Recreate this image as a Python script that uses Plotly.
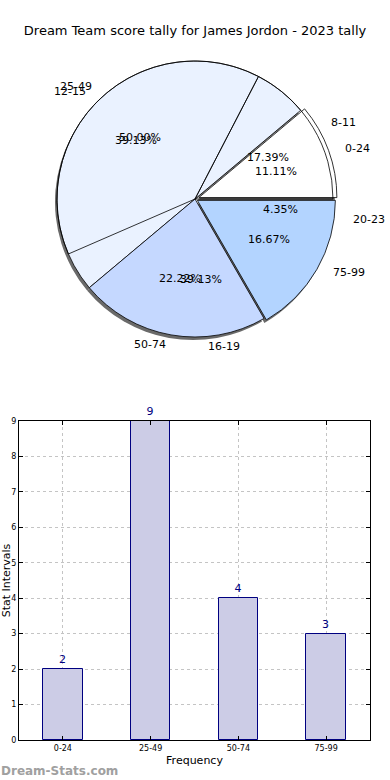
import math
import plotly.graph_objects as go

# ---------------- data ----------------
title_text = "Dream Team score tally for James Jordon - 2023 tally"
cats_a = ["0-24", "25-49", "50-74", "75-99"]
vals_a = [2, 9, 4, 3]
cats_b = ["8-11", "12-15", "16-19", "20-23"]
vals_b = [4, 9, 9, 1]
bar_cats = ["0-24", "25-49", "50-74", "75-99"]
bar_vals = [2, 9, 4, 3]
y_ticks = [0, 1, 2, 3, 4, 5, 6, 7, 8, 9]

# ---------------- styling ----------------
W, H = 390, 780
FONT = "DejaVu Sans"
colors_a = ["#ffffff", "#eaf2ff", "#c5d8ff", "#b3d4ff"]
pull_a = [0.03, 0, 0, 0.02]
CX, CY, R = 195, 199, 138     # pie centre / radius in pixels
RX_T, RY_T = 143, 134         # text placement radii


def dom(cx, cy, r, maxpull):
    half = r * (1 + maxpull)
    return dict(x=[(cx - half) / W, (cx + half) / W],
                y=[1 - (cy + half) / H, 1 - (cy - half) / H])


def px(x):
    return x / W


def py(y):
    return 1 - y / H


def start_rotation(values):
    # plotly places the first counterclockwise slice ending at `rotation`;
    # shift so the first slice starts at 3 o'clock like matplotlib
    return 90 - 360.0 * values[0] / float(sum(values))


fig = go.Figure()
mp = max(pull_a)
rot_a = start_rotation(vals_a)
rot_b = start_rotation(vals_b)

# shadow
fig.add_trace(go.Pie(
    labels=cats_a, values=vals_a, sort=False, direction="counterclockwise",
    rotation=rot_a, pull=pull_a, textinfo="none", hoverinfo="skip",
    marker=dict(colors=["#6a6a6a"] * len(vals_a), line=dict(width=0)),
    domain=dom(CX - 2, CY + 3, R, mp), showlegend=False,
))
# main pie
fig.add_trace(go.Pie(
    labels=cats_a, values=vals_a, sort=False, direction="counterclockwise",
    rotation=rot_a, pull=pull_a, textinfo="none",
    marker=dict(colors=colors_a, line=dict(color="black", width=0.8)),
    domain=dom(CX, CY, R, mp), showlegend=False,
))
# second pie outlines
fig.add_trace(go.Pie(
    labels=cats_b, values=vals_b, sort=False, direction="counterclockwise",
    rotation=rot_b, textinfo="none", hoverinfo="skip",
    marker=dict(colors=["rgba(0,0,0,0)"] * len(vals_b),
                line=dict(color=["black", "black", "rgba(0,0,0,0)", "rgba(0,0,0,0)"],
                          width=0.8)),
    domain=dom(CX, CY, R, 0), showlegend=False,
))

annotations = []


def pie_texts(labels, values):
    total = float(sum(values))
    start = 0.0
    for lab, v in zip(labels, values):
        ang = 360.0 * v / total
        mid = math.radians(start + ang / 2)
        start += ang
        c, s = math.cos(mid), math.sin(mid)
        # percentage
        annotations.append(dict(
            x=px(CX + 0.6 * RX_T * c), y=py(CY - 0.6 * RY_T * s),
            xref="paper", yref="paper", text="%.2f%%" % (100 * v / total),
            showarrow=False, font=dict(family=FONT, size=11, color="black"),
            xanchor="center", yanchor="middle"))
        # label
        annotations.append(dict(
            x=px(CX + 1.1 * RX_T * c), y=py(CY - 1.1 * RY_T * s),
            xref="paper", yref="paper", text=lab,
            showarrow=False, font=dict(family=FONT, size=11, color="black"),
            xanchor="left" if c > 0 else "right", yanchor="middle"))


pie_texts(cats_a, vals_a)
pie_texts(cats_b, vals_b)

# bar chart
fig.add_trace(go.Bar(
    x=bar_cats, y=bar_vals, width=0.45,
    marker=dict(color="#ccccE6", line=dict(color="#000080", width=1)),
    text=bar_vals, textposition="outside", cliponaxis=False,
    textfont=dict(family=FONT, size=11, color="#000080"),
    xaxis="x", yaxis="y", showlegend=False,
))

annotations.append(dict(
    x=px(-1), y=py(771), xref="paper", yref="paper", text="<b>Dream-Stats.com</b>",
    showarrow=False, xanchor="left", yanchor="middle",
    font=dict(family=FONT, size=12, color="#a0a0a0")))

axis_common = dict(
    showline=True, linecolor="black", linewidth=1, mirror="ticks",
    ticks="inside", ticklen=4, tickcolor="black",
    showgrid=True, gridcolor="#c4c4c4", griddash="dot", gridwidth=1,
    tickfont=dict(family=FONT, size=8, color="black"), zeroline=False,
    automargin=False,
)

fig.update_layout(
    width=W, height=H,
    margin=dict(l=0, r=0, t=0, b=0),
    paper_bgcolor="white", plot_bgcolor="white",
    font=dict(family=FONT, color="black"),
    title=dict(text=title_text, x=0.5, xanchor="center", y=py(30), yanchor="middle",
               font=dict(family=FONT, size=13, color="black")),
    xaxis=dict(domain=[px(19), px(370)], anchor="y", type="category",
               range=[-0.5, 3.5],
               title=dict(text="Frequency", standoff=4,
                          font=dict(family=FONT, size=11, color="black")),
               **axis_common),
    yaxis=dict(domain=[py(740), py(421)], anchor="x", range=[0, 9],
               tickvals=y_ticks,
               title=dict(text="Stat Intervals", standoff=2,
                          font=dict(family=FONT, size=11, color="black")),
               **axis_common),
    annotations=annotations,
    bargap=0,
)

fig.write_html("out.html",
               config={"displayModeBar": False},
               post_script="document.body.style.margin='0';document.body.style.padding='0';")
